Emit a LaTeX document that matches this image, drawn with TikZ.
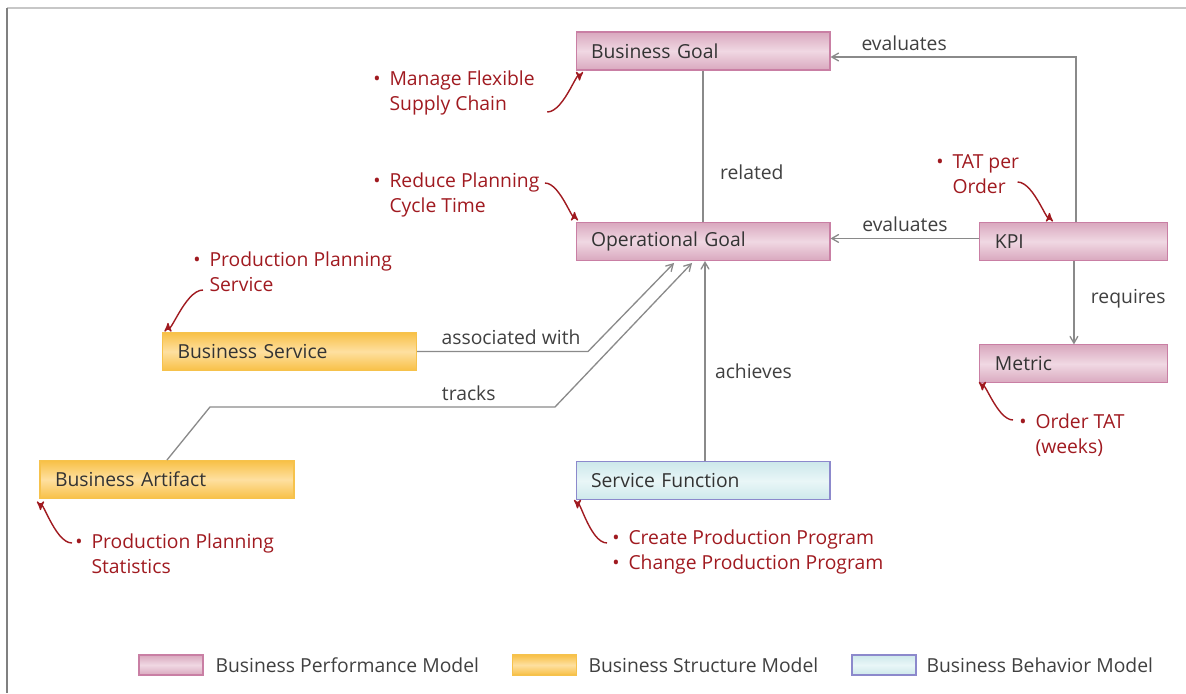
\documentclass[tikz,border=0pt]{standalone}
\usepackage{fontspec}
\setmainfont{Open Sans}
\usepackage{tikz}
\usetikzlibrary{arrows}

\definecolor{pinkdk}{HTML}{D9A8BE}
\definecolor{pinklt}{HTML}{F0D8E3}
\definecolor{pinkbd}{HTML}{C97FA4}
\definecolor{yeldk}{HTML}{F8C046}
\definecolor{yellt}{HTML}{FEE0A0}
\definecolor{yelbd}{HTML}{F6C24C}
\definecolor{bludk}{HTML}{CDE8EB}
\definecolor{blult}{HTML}{E9F6F7}
\definecolor{blubd}{HTML}{8C89CC}
\definecolor{notered}{HTML}{A01A20}
\definecolor{linkgray}{HTML}{8A8A8A}

\newcommand{\bul}{\makebox[0pt][r]{\textbullet\hspace{5pt}}}

\begin{document}
\begin{tikzpicture}[x=0.02cm,y=-0.02cm,>=angle 60,semithick,
                    font=\fontsize{11}{14.2}\selectfont]
  \tikzstyle{box}=[rectangle,draw,minimum height=0.76cm,text width=4.48cm,
                   inner xsep=0.3cm,align=left,text=black!80]
  \tikzstyle{smallbox}=[box,text width=3.16cm]
  \tikzstyle{perf}=[draw=pinkbd,top color=pinkdk,bottom color=pinkdk,middle color=pinklt]
  \tikzstyle{struct}=[draw=yelbd,top color=yeldk,bottom color=yeldk,middle color=yellt]
  \tikzstyle{behav}=[draw=blubd,top color=bludk,bottom color=bludk,middle color=blult]
  \tikzstyle{link}=[draw=linkgray,line width=0.75pt]
  \tikzstyle{lbl}=[text=black!75]
  \tikzstyle{note}=[text=notered,align=left,inner sep=0pt,anchor=west]
  \tikzstyle{notearrow}=[draw=notered,line width=0.8pt,->,>=stealth']
  \tikzstyle{key}=[rectangle,minimum width=1.28cm,minimum height=0.4cm,inner sep=0pt]

  \useasboundingbox (0,0) rectangle (1186,693);
  \draw[black!22,line width=1.5pt] (7,8) -- (1186,8);
  \draw[black!50,line width=1pt] (7,8) -- (7,693);

  % model elements
  \node[box,perf] (bg) at (703,51) {Business Goal};
  \node[box,perf] (og) [below of=bg,node distance=3.81cm] {Operational Goal};
  \node[box,behav] (sf) [below of=og,node distance=4.79cm] {Service Function};
  \node[smallbox,perf] (kpi) [right of=og,node distance=7.42cm] {KPI};
  \node[smallbox,perf] (metric) [below of=kpi,node distance=2.45cm] {Metric};
  \node[box,struct] (bs) at (289.5,351.5) {Business Service};
  \node[box,struct] (ba) at (167,479.5) {Business Artifact};

  % relations
  \path[link] (bg) edge node[lbl,right,pos=0.67,xshift=6pt] {related} (og);
  \draw[link,->] ([shift={(2,0)}]kpi.north) |- node[lbl,pos=0.85,above] {evaluates}
        ([shift={(0,6)}]bg.east);
  \draw[link,->] ([shift={(0,-3)}]kpi.west) -- node[lbl,above] {evaluates}
        ([shift={(0,-3)}]og.east);
  \draw[link,->] (kpi) -- node[lbl,right,pos=0.45,xshift=6pt] {requires} (metric);
  \draw[link,->] ([shift={(2,0)}]sf.north) -- node[lbl,right,pos=0.45,xshift=2pt] {achieves}
        ([shift={(2,0)}]og.south);
  \draw[link,->] (bs.east) -- node[lbl,above,pos=0.55] {associated with} ++(171,0)
        -- ([shift={(-29,2)}]og.south);
  \draw[link,->] (ba.north) -- ++(43,-53)
        -- node[lbl,above,pos=0.75] {tracks} ++(345,0) -- ([shift={(-11,2)}]og.south);

  % examples
  \node[note] (mfsc) at (389,93) {\bul Manage Flexible\\Supply Chain};
  \node[note] (rpct) at (389,195) {\bul Reduce Planning\\Cycle Time};
  \node[note] (tpo) at (952,174) {\bul TAT per\\Order};
  \node[note] (pps) at (209,272) {\bul Production Planning\\Service};
  \node[note] (ots) at (1035,435) {\bul Order TAT\\(weeks)};
  \node[note] (ppst) at (91,554) {\bul Production Planning\\Statistics};
  \node[note] (cpp) at (628,552) {\bul Create Production Program\\\bul Change Production Program};

  \draw[notearrow] ([shift={(12,19)}]mfsc.east) to[out=0,in=90] ([shift={(4,10)}]bg.south west);
  \draw[notearrow] ([shift={(5,-12)}]rpct.east) to[out=0,in=-90] ([shift={(-1,-10)}]og.north west);
  \draw[notearrow] ([shift={(-2,8)}]tpo.east) to[out=0,in=-90] ([shift={(70,-9)}]kpi.north west);
  \draw[notearrow] ([shift={(-6,18)}]pps.west) to[out=180,in=-90] ([shift={(6,-9)}]bs.north west);
  \draw[notearrow] ([shift={(-22,-15)}]ots.west) to[out=180,in=90] ([shift={(3,7)}]metric.south west);
  \draw[notearrow] ([shift={(-19,-11)}]ppst.west) to[out=180,in=90] ([shift={(1,11)}]ba.south west);
  \draw[notearrow] ([shift={(-21,-9)}]cpp.west) to[out=180,in=90] ([shift={(2,8)}]sf.south west);

  % legend
  \node[key,perf] (kperf) at (171,665) {};
  \node[lbl,anchor=west,inner sep=0pt] (tperf) at (215,665) {Business Performance Model};
  \node[key,struct] (kstruct) at (544.5,665) {};
  \node[lbl,anchor=west,inner sep=0pt] (tstruct) at (588,665) {Business Structure Model};
  \node[key,behav] (kbehav) at (884,665) {};
  \node[lbl,anchor=west,inner sep=0pt] (tbehav) at (926,665) {Business Behavior Model};
\end{tikzpicture}
\end{document}
